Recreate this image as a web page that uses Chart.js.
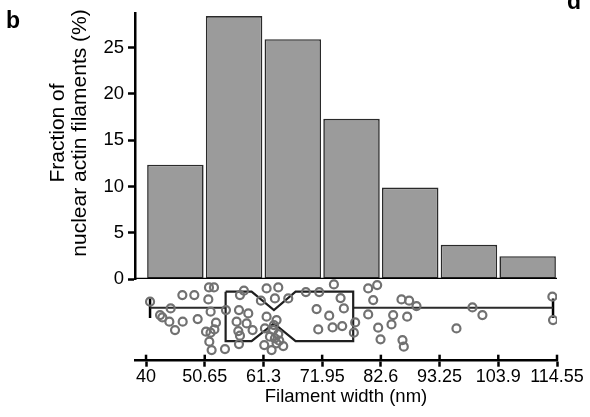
<!DOCTYPE html>
<html>
<head>
<meta charset="utf-8">
<script src="https://cdn.jsdelivr.net/npm/chart.js@4.4.1/dist/chart.umd.min.js"></script>
<style>
  html, body { margin: 0; padding: 0; background: #fff; }
  #wrap { width: 590px; height: 417px; }
</style>
</head>
<body>
<div id="wrap"><canvas id="widthChart" width="590" height="417"></canvas></div>
<script>
// histogram bins (nm) and fraction of filaments per bin (%)
const binEdges = [40, 50.65, 61.3, 71.95, 82.6, 93.25, 103.9, 114.55];
const binLabels = ["40", "50.65", "61.3", "71.95", "82.6", "93.25", "103.9", "114.55"];
const fractions = [12.35, 28.4, 25.9, 17.3, 9.88, 3.7, 2.47];
const yTicks = [0, 5, 10, 15, 20, 25];

// individual filaments: width (nm) and vertical jitter (arbitrary units)
const widths = [
  40.73, 42.54, 42.96, 44.47, 44.23, 45.26, 46.65, 46.59, 48.76, 49.37,
  51.42, 52.33, 51.30, 51.72, 52.69, 50.88, 51.70, 52.40, 51.48, 51.90,
  54.32, 54.50, 57.04, 57.76, 56.86, 58.55, 56.43, 58.25, 56.74, 57.04,
  59.33, 56.86, 60.84,
  61.87, 63.99, 63.38, 65.80, 61.87, 63.68, 61.57, 63.08, 63.99, 63.38,
  62.48, 61.45, 62.78, 64.89, 63.68, 63.20, 64.17, 69.00, 71.42, 70.94, 71.24,
  74.08, 75.29, 75.89, 73.23, 77.94, 73.84, 75.59, 77.70, 80.30, 81.93,
  81.21, 80.30, 82.11, 82.54,
  84.83, 84.53, 86.34, 87.73, 89.06, 87.37, 86.52, 86.76,
  99.21, 101.02, 96.31,
  113.71, 113.83
];
const jitter = [
  4.5, 0.5, -0.2, 2.5, -1.5, -4.0, -1.5, 6.5, 6.5, -0.7,
  8.8, 8.8, 5.2, 1.5, -1.8, -4.5, -4.8, -3.8, -7.5, -10.0,
  -9.7, 2.0, 6.5, 7.8, 2.0, 1.0, -1.5, -2.0, -4.3, -5.7,
  -4.0, -8.2, 4.8,
  8.5, 8.8, 5.5, 5.5, 0.0, -1.0, -3.5, -4.0, -5.2, -6.5,
  -6.0, -8.5, -10.0, -8.8, -8.0, -2.5, -7.2, 7.4, 7.4, 2.3, -3.8,
  9.7, 5.6, 2.5, 0.3, -1.7, -3.2, -2.8, -4.8, 8.5, 9.5,
  5.0, 0.7, -3.3, -6.8,
  0.5, -2.3, 5.2, 4.8, 3.2, 0.0, -7.0, -9.0,
  2.8, 0.5, -3.5,
  6.0, -1.0
];

// notched box plot: min, Q1, notch low, median, notch high, Q3, max
const boxSummary = [40.73, 54.44, 59.15, 63.2, 67.13, 77.58, 113.83];

// vertical placement of the box glyph on the jitter axis
const BOX_TOP = 7.5, BOX_BOTTOM = -7.3;
const WAIST_TOP = 2, WAIST_BOTTOM = -2;
const WHISKER_Y = 2.7, CAP_TOP = 5.5, CAP_BOTTOM = -0.4;
const X_MIN = 38;

const FONT = "'Liberation Sans', Arial, Helvetica, sans-serif";
Chart.defaults.font.family = FONT;
Chart.defaults.color = "#000";

const [wMin, q1, nLo, med, nHi, q3, wMax] = boxSummary;

const barData = fractions.map((f, i) => ({ x: (binEdges[i] + binEdges[i + 1]) / 2, y: f }));
const dotData = widths.map((w, i) => ({ x: w, y: jitter[i] }));
const boxOutline = [
  { x: q1, y: BOX_TOP }, { x: nLo, y: BOX_TOP }, { x: med, y: WAIST_TOP },
  { x: nHi, y: BOX_TOP }, { x: q3, y: BOX_TOP }, { x: q3, y: BOX_BOTTOM },
  { x: nHi, y: BOX_BOTTOM }, { x: med, y: WAIST_BOTTOM }, { x: nLo, y: BOX_BOTTOM },
  { x: q1, y: BOX_BOTTOM }, { x: q1, y: BOX_TOP }
];

function lineSet(data, yAxisID, color, width, order) {
  return {
    type: "line", data: data, xAxisID: "x", yAxisID: yAxisID,
    borderColor: color, borderWidth: width, pointRadius: 0,
    fill: false, tension: 0, spanGaps: false, order: order
  };
}

// labels, y title and the upper half of the crossing x ticks
const extras = {
  id: "extras",
  afterDraw(chart) {
    const ctx = chart.ctx;
    const xs = chart.scales.x;
    ctx.save();
    ctx.strokeStyle = "#000";
    ctx.lineWidth = 2.5;
    xs.ticks.forEach(t => {
      const px = xs.getPixelForValue(t.value);
      ctx.beginPath();
      ctx.moveTo(px, xs.top - 6);
      ctx.lineTo(px, xs.top);
      ctx.stroke();
    });

    ctx.fillStyle = "#000";
    ctx.font = "bold 23px " + FONT;
    ctx.textAlign = "left";
    ctx.textBaseline = "alphabetic";
    ctx.fillText("b", 6, 28);
    ctx.fillText("d", 567, 9);

    ctx.font = "21px " + FONT;
    ctx.textAlign = "center";
    ctx.textBaseline = "middle";
    ctx.translate(0, 133);
    ctx.rotate(-Math.PI / 2);
    ctx.fillText("Fraction of", 0, 58);
    ctx.fillText("nuclear actin filaments (%)", 0, 80);
    ctx.restore();
  }
};

new Chart(document.getElementById("widthChart"), {
  type: "scatter",
  data: {
    datasets: [
      {
        type: "scatter", label: "filaments", data: dotData,
        xAxisID: "x", yAxisID: "yj",
        pointStyle: "circle", pointRadius: 4, pointBorderWidth: 2.2,
        borderColor: "#717171", backgroundColor: "rgba(0,0,0,0)",
        order: 1
      },
      lineSet(boxOutline, "yj", "#1f1f1f", 2.2, 2),
      lineSet([{ x: wMin, y: WHISKER_Y }, { x: q1, y: WHISKER_Y }, { x: med, y: null },
               { x: q3, y: WHISKER_Y }, { x: wMax, y: WHISKER_Y }], "yj", "#2b2b2b", 2, 3),
      lineSet([{ x: wMin, y: CAP_TOP }, { x: wMin, y: CAP_BOTTOM }, { x: med, y: null },
               { x: wMax, y: CAP_TOP }, { x: wMax, y: CAP_BOTTOM }], "yj", "#000", 2.5, 3),
      lineSet([{ x: X_MIN, y: 0 }, { x: binEdges[binEdges.length - 1], y: 0 }], "y", "#000", 2.6, 4),
      {
        type: "bar", label: "fraction", data: barData,
        xAxisID: "x", yAxisID: "y",
        backgroundColor: "#9b9b9b", borderColor: "#2a2a2a", borderWidth: 1.6,
        borderSkipped: false, categoryPercentage: 1, barPercentage: 0.962,
        order: 5
      }
    ]
  },
  options: {
    responsive: false,
    animation: false,
    layout: { padding: { left: 0, right: 33, top: 13, bottom: 0 } },
    plugins: { legend: { display: false }, tooltip: { enabled: false } },
    scales: {
      x: {
        type: "linear", position: "bottom", offset: false,
        min: X_MIN, max: binEdges[binEdges.length - 1],
        afterBuildTicks: s => { s.ticks = binEdges.map(v => ({ value: v })); },
        afterFit: s => { s.height = 56.3; },
        border: { display: true, color: "#000", width: 2.5 },
        grid: { display: true, offset: false, drawOnChartArea: false, drawTicks: true,
                tickLength: 6, tickWidth: 2.5, tickColor: "#000" },
        ticks: {
          autoSkip: false, maxRotation: 0, minRotation: 0, padding: 0,
          font: { size: 18, lineHeight: 1.2 }, color: "#000",
          callback: (v, i) => binLabels[i]
        },
        title: { display: true, text: "Filament width (nm)", color: "#000",
                 font: { size: 18.5, lineHeight: 1.2 }, padding: { top: 0, bottom: 9 } }
      },
      // jitter axis first so that the histogram axis is stacked above it
      yj: {
        type: "linear", position: "left", stack: "left", stackWeight: 81.7,
        min: -13.2, max: 11.3, display: false,
        afterFit: s => { s.width = 135; }
      },
      y: {
        type: "linear", position: "left", stack: "left", stackWeight: 266,
        min: 0, max: 28.7,
        afterBuildTicks: s => { s.ticks = yTicks.map(v => ({ value: v })); },
        afterFit: s => { s.width = 135; },
        border: { display: true, color: "#000", width: 2.5 },
        grid: { display: true, drawOnChartArea: false, drawTicks: true,
                tickLength: 7, tickWidth: 2.5, tickColor: "#000" },
        ticks: { padding: 4, font: { size: 18.5, lineHeight: 1.0 }, color: "#000" }
      }
    }
  },
  plugins: [extras]
});
</script>
</body>
</html>
